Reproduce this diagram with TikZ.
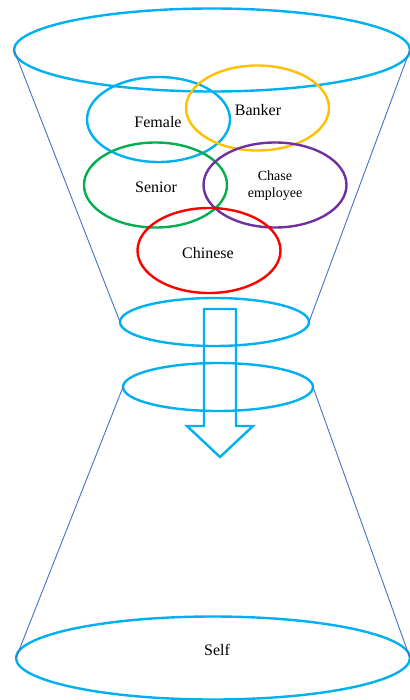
\documentclass[tikz,border=0pt]{standalone}
\usepackage{fontspec}
\setmainfont{Liberation Serif}
\usetikzlibrary{shapes.geometric}
\definecolor{ringblue}{HTML}{00B0F0}
\definecolor{edgeblue}{HTML}{4472C4}
\definecolor{ringyellow}{HTML}{FFC000}
\definecolor{ringgreen}{HTML}{00B050}
\definecolor{ringpurple}{HTML}{7030A0}
\definecolor{ringred}{HTML}{FF0000}
\tikzset{
  ring/.style={ellipse, draw=#1, line width=2.4pt, inner sep=0pt, outer sep=0pt},
  trait/.style={ring=#1, minimum width=143pt, minimum height=85pt, font=\fontsize{16}{18}\selectfont},
  side/.style={draw=edgeblue, line width=0.9pt},
  flow/.style={draw=ringblue, line width=2.4pt, line join=miter}
}
\begin{document}
\begin{tikzpicture}[x=1pt, y=-1pt]
\useasboundingbox (0,0) rectangle (409,700);

% funnel rims
\node[ring=ringblue, minimum width=396pt, minimum height=83pt] (top) at (212,50) {};
\node[ring=ringblue, minimum width=189pt, minimum height=48pt] (neckA) at (214.5,322) {};
\node[ring=ringblue, minimum width=190pt, minimum height=48pt] (neckB) at (218,387) {};
\node[ring=ringblue, minimum width=394pt, minimum height=83pt,
      font=\fontsize{16}{18}\selectfont] (base) at (213,658) {};
\node[font=\fontsize{16}{18}\selectfont] (selflabel) at (217,650) {Self};

% funnel sides
\draw[side] (top.west) -- (neckA.west);
\draw[side] (top.east) -- (neckA.east);
\draw[side] (neckB.west) -- (base.west);
\draw[side] (neckB.east) -- (base.east);

% identity traits
\node[trait=ringblue] (female) at (158.5,119.5) {};
\node[font=\fontsize{16}{18}\selectfont] at (158,122) {Female};
\node[trait=ringyellow] (banker) at (257.5,108) {};
\node[font=\fontsize{16}{18}\selectfont] at (258,110) {Banker};
\node[trait=ringgreen] (senior) at (155.5,185) {};
\node[font=\fontsize{16}{18}\selectfont] at (156,187) {Senior};
\node[trait=ringpurple] (chase) at (275,185) {};
\node[align=center, font=\fontsize{14}{17}\selectfont] at (275,186) {Chase\\employee};
\node[trait=ringred] (chinese) at (209,250.5) {};
\node[font=\fontsize{16}{18}\selectfont] at (208,253) {Chinese};

% downward arrow
\draw[flow] (204,309) -- (236,309) -- (236,426) -- (253,426) -- (220,457)
  -- (187,426) -- (204,426) -- cycle;
\end{tikzpicture}
\end{document}
